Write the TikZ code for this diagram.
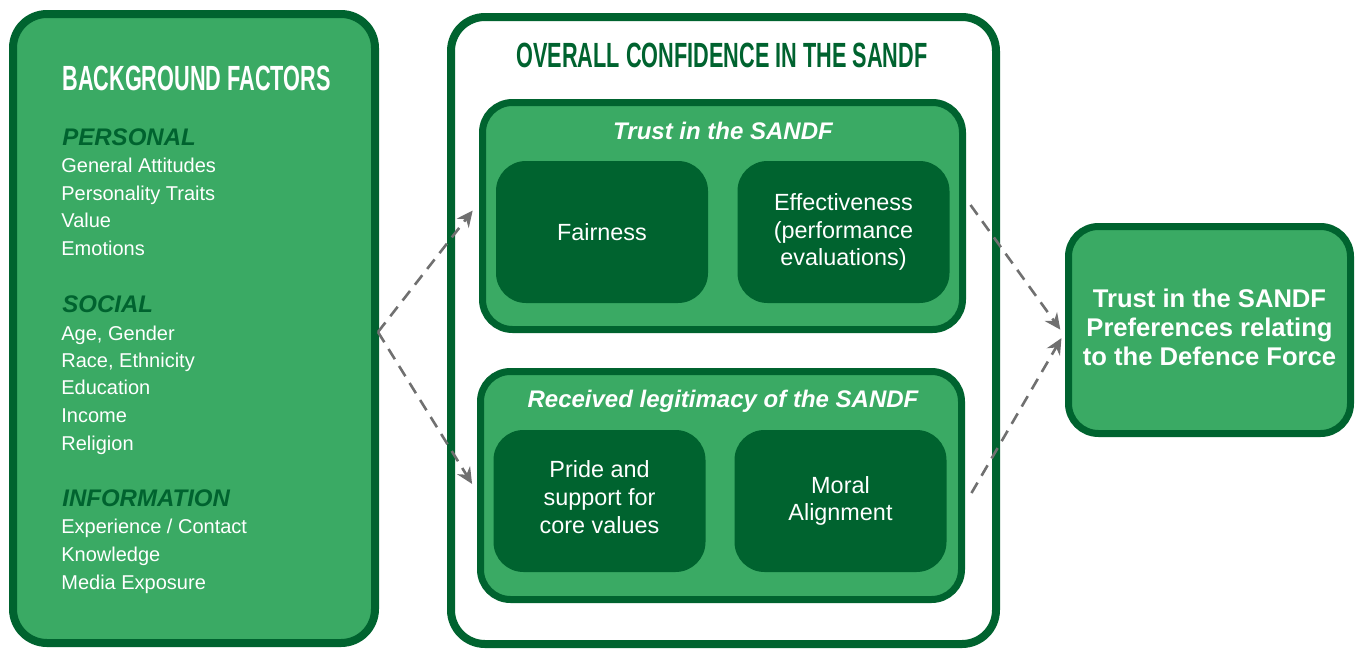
\documentclass[tikz,border=0pt]{standalone}
\usepackage{fontspec}
\setmainfont{Liberation Sans}
\newfontfamily\headfont[FakeStretch=0.62]{Liberation Sans Bold}
\usepackage{tikz}
\usetikzlibrary{arrows.meta}

\definecolor{sandfgreen}{RGB}{58,170,100}
\definecolor{sandfdark}{RGB}{0,99,47}
\definecolor{arrowgray}{RGB}{112,112,112}

\tikzset{
  outerbox/.style={draw=sandfdark, line width=4pt, rounded corners=17pt, inner sep=0pt, outer sep=0pt},
  innerbox/.style={draw=sandfdark, fill=sandfgreen, line width=3.5pt, rounded corners=15pt, inner sep=0pt, outer sep=0pt},
  factor/.style={fill=sandfdark, rounded corners=15pt, minimum width=106pt, minimum height=71pt,
    text=white, align=center, outer sep=0pt, font=\fontsize{11.7}{13.9}\selectfont},
  heading/.style={anchor=base, inner sep=0pt, font=\headfont\fontsize{17.5}{20}\selectfont},
  boxtitle/.style={anchor=base, inner sep=0pt, text=white, font=\bfseries\itshape\fontsize{12}{14}\selectfont},
  group/.style={anchor=base west, inner sep=0pt, text=sandfdark, font=\bfseries\itshape\fontsize{12}{14}\selectfont},
  item/.style={anchor=base west, inner sep=0pt, text=white, font=\fontsize{10}{12}\selectfont},
  flow/.style={draw=arrowgray, line width=1.3pt, dash pattern=on 6pt off 4pt, -{Stealth[length=8pt,width=7.5pt]}},
}

\begin{document}
\begin{tikzpicture}[x=0.5pt,y=-0.5pt]
    \useasboundingbox (0,0) rectangle (1357,649);

    \node[outerbox, fill=sandfgreen, minimum width=181pt, minimum height=314.5pt] (bg) at (194,328.5) {};
    \node[outerbox, fill=white, minimum width=272.5pt, minimum height=313.5pt] (overall) at (723.5,330.5) {};
    \node[innerbox, minimum width=240pt, minimum height=113.5pt] (trust) at (722.5,216) {};
    \node[innerbox, minimum width=240.5pt, minimum height=114pt] (legit) at (721,485.5) {};
    \node[innerbox, minimum width=141pt, minimum height=103.5pt, text=white, align=center,
        font=\bfseries\fontsize{12.8}{14.5}\selectfont] (pref) at (1209.5,330)
        {Trust in the SANDF\\Preferences relating\\to the Defence Force\\[-11.5pt]};

    \node[factor] (fair) at (602,232) {Fairness};
    \node[factor] (effect) at (843.5,232) {Effectiveness\\(performance\\evaluations)};
    \node[factor] (pride) at (599.5,501) {Pride and\\support for\\core values\\[-9.9pt]};
    \node[factor] (moral) at (840.5,501) {Moral\\Alignment};

    \node[heading, anchor=base west, text=white] (bgtitle) at (62,90) {BACKGROUND FACTORS};
    \node[heading, text=sandfdark] (overalltitle) at (722,67) {OVERALL CONFIDENCE IN THE SANDF};
    \node[boxtitle] (trusttitle) at (723,139.5) {Trust in the SANDF};
    \node[boxtitle] (legittitle) at (723,407) {Received legitimacy of the SANDF};

    \foreach \y/\t in {145.5/PERSONAL, 312.5/SOCIAL, 506.5/INFORMATION}
        \node[group] (grp\t) at (62,\y) {\t};
    \foreach \y/\t in {172/General Attitudes, 200/Personality Traits, 227/Value, 255/Emotions,
                       340/{Age, Gender}, 367/{Race, Ethnicity}, 394/Education, 422/Income, 450/Religion,
                       533/{Experience / Contact}, 561/Knowledge, 589/Media Exposure}
        \node[item] (item\y) at (61,\y) {\t};

    \draw[flow, shorten >=8pt] ([shift={(1.5pt,-1.75pt)}]bg.east) -- ([yshift=9pt]trust.west);
    \draw[flow, shorten >=8pt] ([shift={(1.5pt,-1.75pt)}]bg.east) -- ([yshift=-6pt]legit.west);
    \draw[flow, shorten >=7pt] ([shift={(4pt,5.5pt)}]trust.east) -- ([yshift=-5.5pt]pref.west);
    \draw[flow, shorten >=7pt] ([shift={(5pt,-3.75pt)}]legit.east) -- ([yshift=2pt]pref.west);
\end{tikzpicture}
\end{document}
